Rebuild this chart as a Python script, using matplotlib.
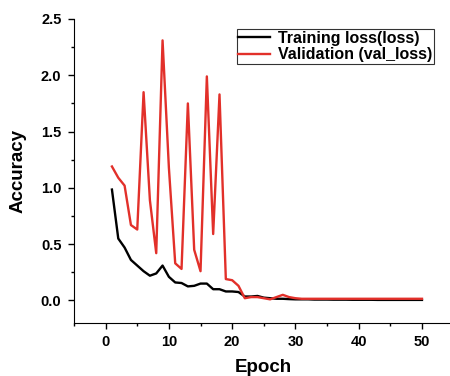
import numpy as np
import matplotlib
matplotlib.use("Agg")
import matplotlib.pyplot as plt
from matplotlib.ticker import MultipleLocator

plt.rcParams["font.family"] = ["Liberation Sans", "DejaVu Sans"]
plt.rcParams["font.weight"] = "bold"

epochs = list(range(1, 51))

train_loss = [0.985, 0.55, 0.47, 0.36, 0.31, 0.26, 0.22, 0.24, 0.31, 0.21,
              0.16, 0.155, 0.125, 0.13, 0.15, 0.15, 0.10, 0.10, 0.08, 0.08,
              0.075, 0.035, 0.035, 0.04, 0.025, 0.02, 0.015, 0.015, 0.012, 0.01,
              0.01, 0.01, 0.008, 0.008, 0.008, 0.007, 0.007, 0.007, 0.006, 0.006,
              0.006, 0.006, 0.005, 0.005, 0.005, 0.005, 0.005, 0.005, 0.005, 0.005]

val_loss = [1.19, 1.09, 1.02, 0.67, 0.63, 1.85, 0.89, 0.42, 2.31, 1.18,
            0.33, 0.28, 1.75, 0.45, 0.26, 1.99, 0.59, 1.83, 0.19, 0.18,
            0.13, 0.02, 0.03, 0.03, 0.02, 0.01, 0.03, 0.05, 0.03, 0.02,
            0.015, 0.015, 0.015, 0.015, 0.015, 0.015, 0.015, 0.015, 0.015, 0.015,
            0.015, 0.015, 0.015, 0.015, 0.015, 0.015, 0.015, 0.015, 0.015, 0.015]

fig = plt.figure(figsize=(4.5, 3.76), dpi=100)
ax = fig.add_axes([0.1644, 0.141, 0.8436, 0.8085])

ax.plot(epochs, train_loss, color="black", lw=1.7, label="Training loss(loss)")
ax.plot(epochs, val_loss, color="#e2302a", lw=1.7, label="Validation (val_loss)")

ax.set_xlim(-5, 55)
ax.set_ylim(-0.2, 2.5)
ax.xaxis.set_major_locator(MultipleLocator(10))
ax.xaxis.set_minor_locator(MultipleLocator(5))
ax.yaxis.set_major_locator(MultipleLocator(0.5))
ax.yaxis.set_minor_locator(MultipleLocator(0.25))
ax.yaxis.set_major_formatter(matplotlib.ticker.FormatStrFormatter("%.1f"))

ax.spines["top"].set_visible(False)
ax.spines["right"].set_visible(False)
ax.tick_params(which="major", length=4, width=1, labelsize=10.5, pad=5)
ax.tick_params(which="minor", length=2.5, width=1)

ax.set_xlabel("Epoch", fontsize=13.5, fontweight="bold", labelpad=7)
ax.set_ylabel("Accuracy", fontsize=13.5, fontweight="bold", labelpad=10)

leg = ax.legend(loc="upper left", bbox_to_anchor=(0.429, 0.967), fontsize=11.5,
                frameon=True, fancybox=False, edgecolor="black",
                handlelength=2.0, borderpad=0.1, labelspacing=0.1,
                handletextpad=0.5, borderaxespad=0)
leg.get_frame().set_linewidth(0.8)

fig.savefig("out.png", dpi=100)
